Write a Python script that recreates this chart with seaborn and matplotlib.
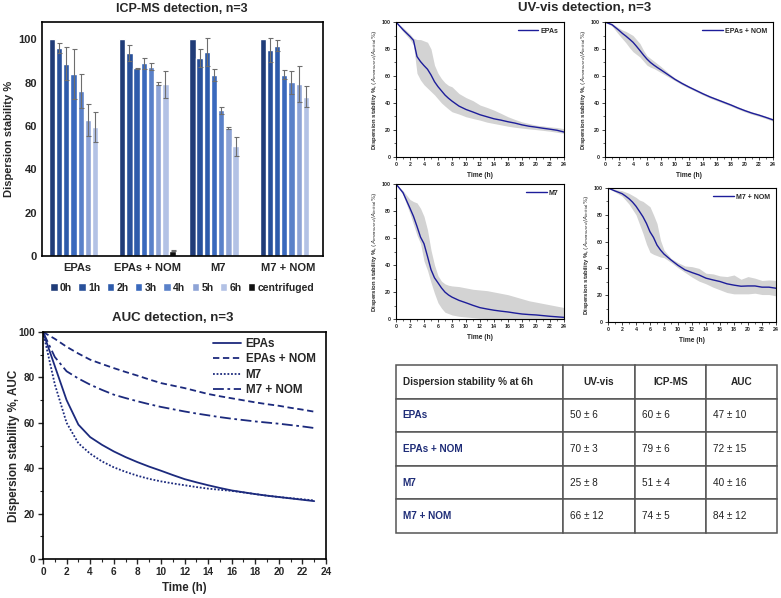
import numpy as np
import pandas as pd
import matplotlib.pyplot as plt
import seaborn as sns
from matplotlib.ticker import MultipleLocator

sns.set_theme(style="ticks")
plt.rcParams['font.family'] = ['Liberation Sans', 'DejaVu Sans']

# ---- ICP-MS bar data ----
GROUPS = ['EPAs', 'EPAs + NOM', 'M7', 'M7 + NOM']
TIMES = ['0h', '1h', '2h', '3h', '4h', '5h', '6h', 'centrifuged']
ICP_EPAS = [100, 96.1, 88.7, 84.0, 76.2, 62.8, 59.6, 0.3]
ICP_EPAS_ERR = [0, 2.2, 7.6, 11.7, 7.7, 7.2, 6.8, 0]
ICP_EPAS_NOM = [100, 93.8, 86.6, 88.9, 87.3, 79.6, 79.2, 2.5]
ICP_EPAS_NOM_ERR = [0, 3.7, 0.3, 2.7, 1.6, 0.6, 6.1, 0.3]
ICP_M7 = [100, 91.4, 94.0, 83.5, 67.3, 59.0, 50.6, 0.3]
ICP_M7_ERR = [0, 4.3, 6.5, 2.8, 1.6, 0.6, 4.5, 0]
ICP_M7_NOM = [100, 94.9, 97.1, 83.6, 80.1, 79.5, 73.6, 0.5]
ICP_M7_NOM_ERR = [0, 5.5, 2.6, 2.1, 5.3, 8.4, 4.8, 0]
ICP_COLORS = ['#203c78', '#28509a', '#2e5bab', '#3a69bd', '#5a81c9',
              '#8ea4d6', '#b3c2e5', '#111111']

# ---- AUC line data ----
SAMPLES = ['EPAs', 'EPAs + NOM', 'M7', 'M7 + NOM']
AUC_T = [0, 1, 2, 3, 4, 5, 6, 7, 8, 9, 10, 11, 12, 13, 14, 15, 16, 17, 18, 19, 20, 21, 22, 23]
AUC_EPAS = [100, 85, 70, 59.2, 53.7, 50.3, 47.4, 44.9, 42.7, 40.7, 38.9, 37, 35.2, 33.8,
            32.5, 31.3, 30.2, 29.4, 28.6, 27.9, 27.3, 26.7, 26.1, 25.5]
AUC_EPAS_NOM = [100, 97, 93.5, 90.5, 87.8, 85.9, 84.1, 82.4, 80.8, 79.1, 77.5, 76.4, 75.3,
                74, 72.7, 71.7, 70.8, 69.9, 69, 68.2, 67.5, 66.6, 65.8, 64.9]
AUC_M7 = [100, 77, 60, 51, 46.4, 43, 40.4, 38.4, 36.7, 35.3, 34.2, 33.3, 32.5, 31.7,
          31, 30.5, 30, 29.3, 28.6, 27.9, 27.3, 26.8, 26.3, 25.8]
AUC_M7_NOM = [100, 89, 82.7, 79.5, 76.8, 74.5, 72.4, 70.9, 69.5, 68.2, 67, 66, 65, 64.1,
              63.3, 62.5, 61.8, 61.2, 60.6, 60.1, 59.6, 59, 58.4, 57.7]
AUC_DASHES = {'EPAs': '', 'EPAs + NOM': (3.5, 2), 'M7': (1, 1), 'M7 + NOM': (6, 2, 1.5, 2)}

# ---- UV-vis data (mean line + grey band) ----
UV_T = [0, 1, 2, 2.5, 3, 3.5, 4, 4.5, 5, 5.5, 6, 6.5, 7, 7.5, 8,
        9, 10, 11, 12, 13, 14, 15, 16, 17, 18, 19, 20, 21, 22, 23, 24]
UV_EPAS = [100, 94.3, 89.3, 86.4, 74.4, 70.7, 67.7, 65.0, 60.8, 55.8, 52.1, 49.0, 45.9, 43.5, 41.4,
           37.7, 35.2, 33.3, 31.3, 29.8, 28.3, 27.3, 26.1, 25.1, 23.8, 22.8, 22.1, 21.3, 20.6, 19.8, 18.5]
UV_EPAS_HI = [100, 96, 91, 88, 87, 87, 86, 85, 80, 68, 62, 58, 55, 53, 52,
              47, 44, 41.7, 38.5, 36.7, 34.7, 32.3, 29.8, 27.8, 26, 24.8, 23.6, 23, 22.3, 21.8, 21]
UV_EPAS_LO = [100, 93, 87, 83, 62, 57, 53.5, 51, 48.5, 46, 43, 40, 37.7, 35.5, 33.5,
              31.8, 29.8, 28.5, 27.3, 25.8, 24.8, 23.8, 22.8, 22, 21.4, 20.8, 20.3, 19.7, 19.1, 18.3, 17.5]
UV_EPAS_NOM = [100, 98, 93.8, 91.5, 89.5, 87.3, 85, 82, 78.8, 75.5, 72.5, 70, 68, 66.2, 64.5,
               61, 57.5, 54.5, 51.8, 49.3, 46.8, 44.5, 42.5, 40.5, 38.5, 36.3, 34.3, 32.5, 31, 29.3, 27.5]
UV_EPAS_NOM_HI = [100, 99, 95.5, 94, 93, 91.5, 90, 87, 84, 79, 75, 73, 71, 69, 67,
                  62.5, 58.5, 55.5, 52.7, 50.2, 47.7, 45.4, 43.4, 41.4, 39.4, 37.2, 35.2, 33.4, 31.9, 30.2, 28.5]
UV_EPAS_NOM_LO = [100, 97, 90.5, 87.5, 84.5, 81, 78, 76, 74, 71, 68, 66.5, 65.5, 64, 62.5,
                  59.5, 56.5, 53.5, 50.9, 48.4, 45.9, 43.6, 41.6, 39.6, 37.6, 35.4, 33.4, 31.6, 30.1, 28.4, 26.5]
UV_M7 = [100, 93.6, 82, 76, 68.6, 60.7, 55.8, 46.4, 36.6, 30.5, 26.8, 23, 19.9, 17.8, 16.2,
         13.8, 12, 10.1, 8.4, 7.4, 6.5, 5.8, 5.2, 4.4, 3.7, 3.3, 3, 2.5, 2, 1.6, 1.2]
UV_M7_HI = [100, 95, 88.5, 87, 86, 82, 76, 66, 51, 40, 32, 28, 26, 25, 24.5,
            24, 23, 22, 21.5, 21, 20, 19, 18, 16.5, 15, 13.5, 12.5, 11.5, 10.5, 9.5, 8.5]
UV_M7_LO = [100, 92, 78, 70, 62, 56, 43, 36, 27, 19, 12, 8, 5, 4, 3,
            2, 1.5, 1, 0.5, 0.3, 0.2, 0.1, 0, 0, 0, 0, 0, 0, 0, 0, 0]
UV_M7_NOM = [100, 97.8, 95.8, 94, 92, 89.5, 86.4, 82.5, 78.5, 73.5, 67.3, 63.1, 57.4, 53.7, 50.7,
             46.3, 42.3, 38.9, 36.9, 35.1, 32.7, 31.4, 30.2, 28.5, 27.5, 26.7, 26.9, 26.9, 26, 26, 25.2]
UV_M7_NOM_HI = [100, 99, 98, 97, 96, 94.5, 93, 91, 90, 88, 86, 80, 73.5, 61, 53.7,
                47.5, 44.3, 41.8, 41.3, 40, 36.4, 35.9, 34.4, 33.9, 35.1, 31.9, 33.9, 32.7, 31, 31.4, 31]
UV_M7_NOM_LO = [100, 97, 94, 91, 88, 84, 80, 73, 66, 58, 52, 50.5, 49.5, 48.5, 48,
                44.5, 40.5, 37, 33.5, 30.5, 28.5, 26, 24, 22, 21, 21, 21, 21.5, 20.5, 20.5, 19.5]

# ---- summary table ----
TABLE_HEADER = ['Dispersion stability % at 6h', 'UV-vis', 'ICP-MS', 'AUC']
TABLE_ROWS = ['EPAs', 'EPAs + NOM', 'M7', 'M7 + NOM']
UV_6H = ['50 ± 6', '70 ± 3', '25 ± 8', '66 ± 12']
ICP_6H = ['60 ± 6', '79 ± 6', '51 ± 4', '74 ± 5']
AUC_6H = ['47 ± 10', '72 ± 15', '40 ± 16', '84 ± 12']

NAVY = '#1c2a7d'
UV_BLUE = '#1d1d9a'
W, H = 781, 598


def px_axes(left, top, right, bottom):
    return [left / W, 1 - bottom / H, (right - left) / W, (bottom - top) / H]


fig = plt.figure(figsize=(7.81, 5.98), dpi=100)

# ICP-MS bars
ax = fig.add_axes(px_axes(42, 22, 323, 256))
icp = pd.DataFrame({
    'group': np.repeat(GROUPS, len(TIMES)),
    'time': TIMES * len(GROUPS),
    'value': ICP_EPAS + ICP_EPAS_NOM + ICP_M7 + ICP_M7_NOM,
})
sns.barplot(data=icp, x='group', y='value', hue='time', order=GROUPS, hue_order=TIMES,
            palette=ICP_COLORS, saturation=1, errorbar=None, width=0.82, gap=0.12, ax=ax)
errs = [ICP_EPAS_ERR, ICP_EPAS_NOM_ERR, ICP_M7_ERR, ICP_M7_NOM_ERR]
bar_sets = list(ax.containers)
for i, cont in enumerate(bar_sets):
    for j, bar in enumerate(cont):
        e = errs[j][i]
        if e > 0:
            ax.errorbar(bar.get_x() + bar.get_width() / 2, bar.get_height(), yerr=e,
                        color='#6e6e6e', lw=0.8, capsize=1.8, capthick=0.8)
ax.set_xlim(-0.5, 3.5)
ax.set_ylim(0, 108)
ax.set_yticks(range(0, 101, 20))
ax.tick_params(axis='both', length=0, labelsize=8)
ax.tick_params(axis='x', pad=5)
for lbl in ax.get_xticklabels() + ax.get_yticklabels():
    lbl.set_fontweight('bold')
for s in ax.spines.values():
    s.set_color('black')
    s.set_linewidth(1.2)
ax.set_xlabel('')
ax.set_ylabel('Dispersion stability %', fontsize=8, fontweight='bold')
ax.yaxis.set_label_coords(-0.1, 0.5)
sns.move_legend(ax, 'center', bbox_to_anchor=(0.5, -0.135), ncol=8, title=None, frameon=False,
                handlelength=0.7, handleheight=0.7, handletextpad=0.25, columnspacing=0.6,
                prop={'weight': 'bold', 'size': 7.5})
fig.text(182 / W, 1 - 9 / H, 'ICP-MS detection, n=3', ha='center', va='center',
         fontsize=9, fontweight='bold')

# AUC lines
ax2 = fig.add_axes(px_axes(43, 332, 326, 559))
auc = pd.DataFrame({
    'time': AUC_T * len(SAMPLES),
    'value': AUC_EPAS + AUC_EPAS_NOM + AUC_M7 + AUC_M7_NOM,
    'sample': np.repeat(SAMPLES, len(AUC_T)),
})
sns.lineplot(data=auc, x='time', y='value', style='sample', style_order=SAMPLES,
             dashes=AUC_DASHES, color=NAVY, lw=1.3, ax=ax2)
ax2.set_xlim(0, 24)
ax2.set_ylim(0, 100)
ax2.set_xticks(range(0, 25, 2))
ax2.set_yticks(range(0, 101, 20))
ax2.xaxis.set_minor_locator(MultipleLocator(1))
ax2.yaxis.set_minor_locator(MultipleLocator(10))
ax2.tick_params(which='major', direction='out', length=3.5, width=1, labelsize=7.2, pad=2)
ax2.tick_params(which='minor', direction='out', length=2, width=0.8)
for lbl in ax2.get_xticklabels() + ax2.get_yticklabels():
    lbl.set_fontweight('bold')
for s in ax2.spines.values():
    s.set_color('black')
    s.set_linewidth(1.2)
ax2.set_xlabel('Time (h)', fontsize=8.3, fontweight='bold')
ax2.set_ylabel('Dispersion stability %, AUC', fontsize=8.4, fontweight='bold')
ax2.xaxis.set_label_coords(0.5, -0.1)
ax2.yaxis.set_label_coords(-0.08, 0.5)
sns.move_legend(ax2, 'upper right', bbox_to_anchor=(1.0, 1.02), title=None, frameon=False,
                handlelength=2.4, handletextpad=0.4, labelspacing=0.3,
                prop={'weight': 'bold', 'size': 8.4})
fig.text(173 / W, 1 - 318 / H, 'AUC detection, n=3', ha='center', va='center',
         fontsize=9.5, fontweight='bold')

# UV-vis panels
uv_panels = [
    ('EPAs', UV_EPAS, UV_EPAS_LO, UV_EPAS_HI, (396, 22, 564, 157)),
    ('EPAs + NOM', UV_EPAS_NOM, UV_EPAS_NOM_LO, UV_EPAS_NOM_HI, (605, 22, 773, 157)),
    ('M7', UV_M7, UV_M7_LO, UV_M7_HI, (396, 184, 564, 319)),
    ('M7 + NOM', UV_M7_NOM, UV_M7_NOM_LO, UV_M7_NOM_HI, (608, 188, 776, 322)),
]
for name, line, lo, hi, box in uv_panels:
    a = fig.add_axes(px_axes(*box))
    a.fill_between(UV_T, lo, hi, color='#d3d3d3', lw=0)
    sns.lineplot(x=UV_T, y=line, color=UV_BLUE, lw=1.0, label=name, ax=a)
    a.legend(loc='upper right', frameon=False, handlelength=3, handletextpad=0.3,
             borderaxespad=0.4, prop={'weight': 'bold', 'size': 5})
    a.set_xlim(0, 24)
    a.set_ylim(0, 100)
    a.set_xticks(range(0, 25, 2))
    a.set_yticks(range(0, 101, 20))
    a.xaxis.set_minor_locator(MultipleLocator(1))
    a.yaxis.set_minor_locator(MultipleLocator(10))
    a.tick_params(which='major', direction='out', length=2, width=0.6, labelsize=3.8, pad=1.5)
    a.tick_params(which='minor', direction='out', length=1.2, width=0.5)
    for lbl in a.get_xticklabels() + a.get_yticklabels():
        lbl.set_fontweight('bold')
    for s in a.spines.values():
        s.set_color('black')
        s.set_linewidth(0.8)
    a.set_xlabel('Time (h)', fontsize=4.8, fontweight='bold')
    a.set_ylabel(r'Dispersion stability %, $(A_{measured}/A_{initial}\%)$',
                 fontsize=4.3, fontweight='bold')
    a.xaxis.set_label_coords(0.5, -0.11)
    a.yaxis.set_label_coords(-0.1, 0.5)
fig.text(585 / W, 1 - 8 / H, 'UV-vis detection, n=3', ha='center', va='center',
         fontsize=9.5, fontweight='bold')

# summary table
tax = fig.add_axes(px_axes(396, 365, 777, 533))
tax.axis('off')
cells = [[r, u, i, c] for r, u, i, c in zip(TABLE_ROWS, UV_6H, ICP_6H, AUC_6H)]
col_w = np.array([167, 72, 71, 71], dtype=float)
tbl = tax.table(cellText=[TABLE_HEADER] + cells, cellLoc='left', bbox=[0, 0, 1, 1],
                colWidths=list(col_w / col_w.sum()))
tbl.auto_set_font_size(False)
tbl.set_fontsize(7.2)
for (r, c), cell in tbl.get_celld().items():
    cell.set_edgecolor('#555555')
    cell.set_linewidth(1.1)
    txt = cell.get_text()
    if c == 0:
        cell.PAD = 0.04
    if r == 0:
        txt.set_fontweight('bold')
        if c > 0:
            txt.set_ha('center')
    elif c == 0:
        txt.set_fontweight('bold')
        txt.set_color('#1f2d78')
    else:
        txt.set_color('#222222')

fig.savefig('out.png', dpi=100)
